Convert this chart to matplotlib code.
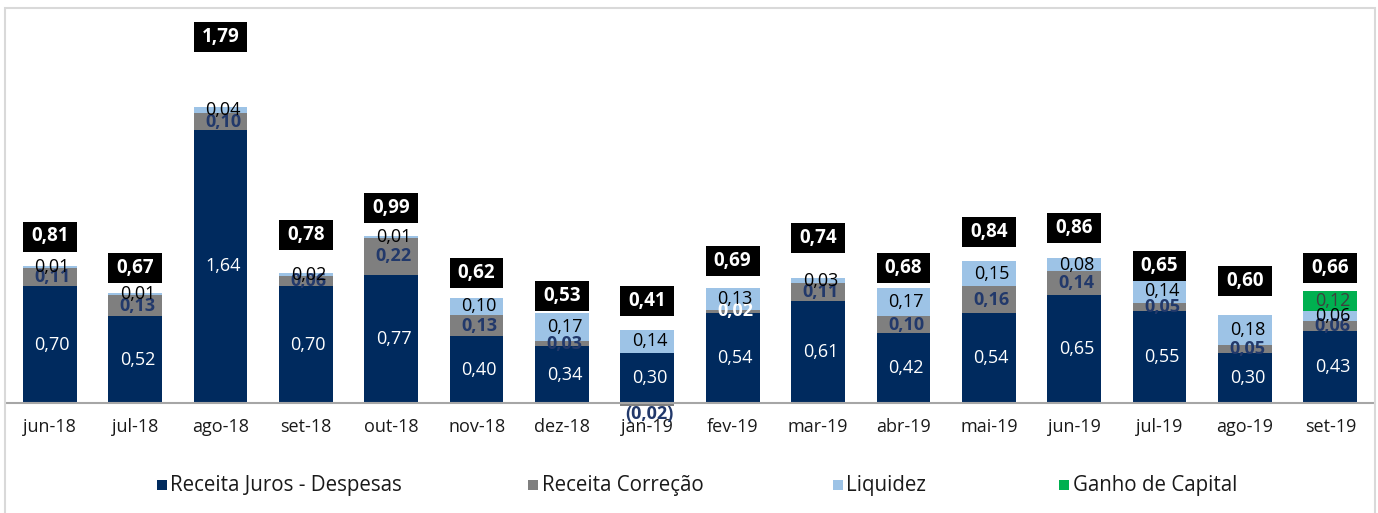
import matplotlib
matplotlib.use("Agg")
import matplotlib.pyplot as plt
from matplotlib.patches import Rectangle
import numpy as np

plt.rcParams['font.family'] = ['Open Sans', 'DejaVu Sans']

# ---- data ----
categories = ["jun-18", "jul-18", "ago-18", "set-18", "out-18", "nov-18", "dez-18", "jan-19",
              "fev-19", "mar-19", "abr-19", "mai-19", "jun-19", "jul-19", "ago-19", "set-19"]
juros = [0.70, 0.52, 1.64, 0.70, 0.77, 0.40, 0.34, 0.30, 0.54, 0.61, 0.42, 0.54, 0.65, 0.55, 0.30, 0.43]
correcao = [0.11, 0.13, 0.10, 0.06, 0.22, 0.13, 0.03, -0.02, 0.02, 0.11, 0.10, 0.16, 0.14, 0.05, 0.05, 0.06]
liquidez = [0.01, 0.01, 0.04, 0.02, 0.01, 0.10, 0.17, 0.14, 0.13, 0.03, 0.17, 0.15, 0.08, 0.14, 0.18, 0.06]
ganho = [0, 0, 0, 0, 0, 0, 0, 0, 0, 0, 0, 0, 0, 0, 0, 0.12]
totals = [0.81, 0.67, 1.79, 0.78, 0.99, 0.62, 0.53, 0.41, 0.69, 0.74, 0.68, 0.84, 0.86, 0.65, 0.60, 0.66]
series_names = ["Receita Juros - Despesas", "Receita Correção", "Liquidez", "Ganho de Capital"]

# layout: vertical centre of total-label boxes (data units)
total_label_y = [1.00, 0.81, 2.20, 1.01, 1.17, 0.78, 0.64, 0.61, 0.85, 0.99, 0.81, 1.03, 1.05, 0.82, 0.73, 0.81]

C_NAVY = "#002A5E"
C_GRAY = "#7F7F7F"
C_LBLUE = "#9DC3E6"
C_GREEN = "#00B050"
C_LBL_NAVY = "#22396B"

W, H = 1378, 513
fig = plt.figure(figsize=(W / 100, H / 100), dpi=100)

# axes placement in pixels
px_per_unit = 166.5
base_px = 403
ymin, ymax = -0.1, 2.35
top_px = base_px - ymax * px_per_unit
bot_px = base_px - ymin * px_per_unit
ax = fig.add_axes([7 / W, (H - bot_px) / H, 1366 / W, (bot_px - top_px) / H])

x = np.arange(len(categories))
bw = 0.63

ax.bar(x, juros, bw, color=C_NAVY, zorder=2)
corr_bottom = [j if c >= 0 else 0 for j, c in zip(juros, correcao)]
ax.bar(x, correcao, bw, bottom=corr_bottom, color=C_GRAY, zorder=2)
liq_bottom = [j + max(c, 0) for j, c in zip(juros, correcao)]
ax.bar(x, liquidez, bw, bottom=liq_bottom, color=C_LBLUE, zorder=2)
g_bottom = [b + l for b, l in zip(liq_bottom, liquidez)]
ax.bar(x, ganho, bw, bottom=g_bottom, color=C_GREEN, zorder=2)

def fmt(v):
    return f"{abs(v):.2f}".replace(".", ",")

dx = 0.03
fs = 13
for i in x:
    ax.text(i + dx, juros[i] / 2, fmt(juros[i]), ha="center", va="center",
            color="white", fontsize=fs, zorder=5)
    c = correcao[i]
    if c >= 0:
        col = "white" if categories[i] == "fev-19" else C_LBL_NAVY
        ax.text(i + dx, corr_bottom[i] + c / 2, fmt(c), ha="center", va="center",
                color=col, fontsize=fs, fontweight="bold", zorder=5)
    else:
        ax.text(i + dx, -0.01, "(" + fmt(c) + ")", ha="center", va="top",
                color=C_LBL_NAVY, fontsize=fs, fontweight="bold", zorder=5)
    ax.text(i + dx, liq_bottom[i] + liquidez[i] / 2, fmt(liquidez[i]), ha="center", va="center",
            color="black", fontsize=fs, zorder=6)
    if ganho[i] > 0:
        ax.text(i + dx, g_bottom[i] + ganho[i] / 2, fmt(ganho[i]), ha="center", va="center",
                color="#3F3F3F", fontsize=fs, zorder=6)
    # total box
    bh = 30 / px_per_unit
    ax.add_patch(Rectangle((i - bw / 2, total_label_y[i] - bh / 2), bw, bh,
                           facecolor="black", edgecolor="none", zorder=4))
    ax.text(i, total_label_y[i], fmt(totals[i]), ha="center", va="center",
            color="white", fontsize=13.5, fontweight="bold", zorder=5)

ax.set_xlim(-0.5, len(categories) - 0.5)
ax.set_ylim(ymin, ymax)
for s in ["left", "right", "top"]:
    ax.spines[s].set_visible(False)
ax.spines["bottom"].set_position(("data", 0))
ax.spines["bottom"].set_color("#A6A6A6")
ax.spines["bottom"].set_linewidth(1.5)
ax.spines["bottom"].set_zorder(3)
ax.set_yticks([])
ax.set_xticks(x)
ax.set_xticklabels(categories, fontsize=13, color="#1A1A1A")
ax.tick_params(axis="x", length=0, pad=10.5)

# legend (manual)
leg_y = (H - 486) / H
colors = [C_NAVY, C_GRAY, C_LBLUE, C_GREEN]
sq_x = [157, 528, 833, 1059]
tx_x = [170, 542, 846, 1073]
for c, sx, tx, name in zip(colors, sq_x, tx_x, series_names):
    fig.add_artist(Rectangle((sx / W, (H - 490) / H), 10 / W, 10 / H, facecolor=c,
                             edgecolor="none", transform=fig.transFigure))
    fig.text(tx / W, leg_y, name, ha="left", va="center", fontsize=14.8, color="#1A1A1A")

# outer border
fig.add_artist(Rectangle((5 / W, -0.05), 1370 / W, (H - 8) / H + 0.05, transform=fig.transFigure,
                         facecolor="none", edgecolor="#D9D9D9", linewidth=1.5))

fig.savefig("out.png", dpi=100)
